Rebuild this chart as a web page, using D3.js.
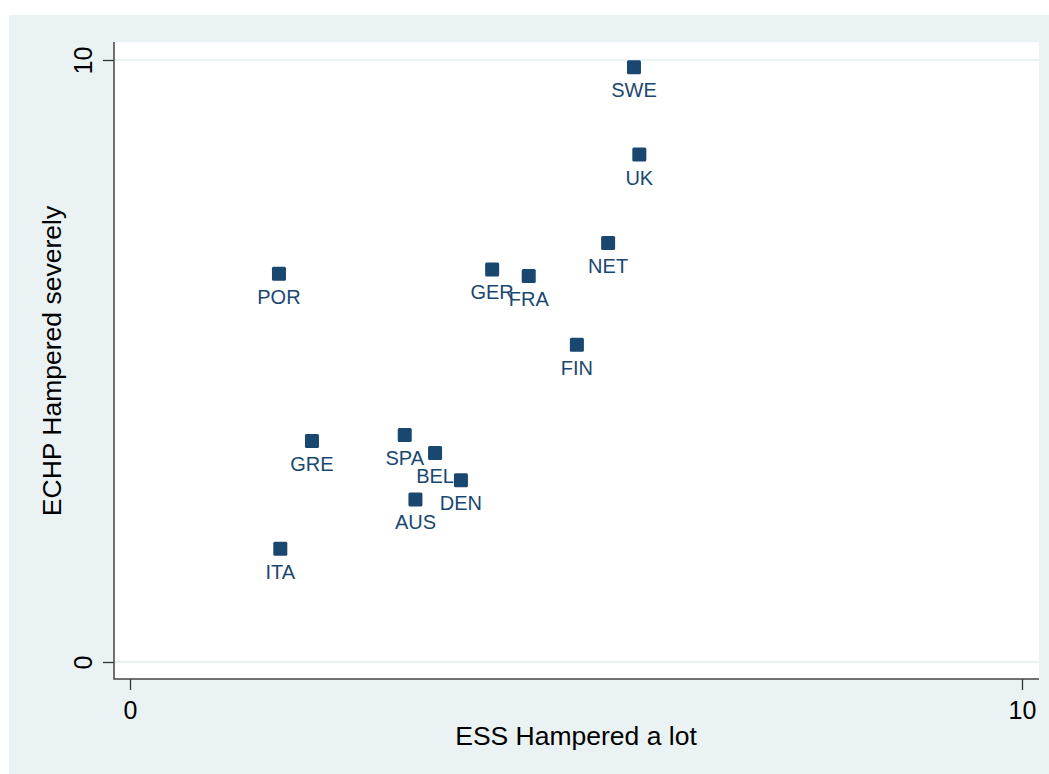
<!DOCTYPE html>
<html>
<head>
<meta charset="utf-8">
<script src="https://cdn.jsdelivr.net/npm/d3@7"></script>
<style>
  body { margin: 0; background: #fff; }
  svg { display: block; font-family: Arial, "Liberation Sans", sans-serif; }
</style>
</head>
<body>
<div class="chart"></div>
<script>
// country codes and values
const countries = ["SWE", "UK", "NET", "GER", "FRA", "POR", "FIN", "GRE", "SPA", "BEL", "DEN", "AUS", "ITA"];
const essLot = [5.65, 5.71, 5.36, 4.06, 4.47, 1.67, 5.01, 2.04, 3.08, 3.42, 3.71, 3.20, 1.685];
const echpSevere = [9.88, 8.43, 6.96, 6.52, 6.41, 6.45, 5.27, 3.67, 3.77, 3.47, 3.02, 2.70, 1.88];
const xTicks = [0, 10];
const yTicks = [0, 10];

const width = 1049, height = 774;
const navy = "#1a476f";
const bg = "#eaf2f3";

const svg = d3.select(".chart").append("svg")
    .attr("width", width)
    .attr("height", height);

// outer graph region
svg.append("rect")
    .attr("x", 9).attr("y", 15)
    .attr("width", width - 9).attr("height", height - 15)
    .attr("fill", bg);

// plot region
const plot = { left: 114, top: 42, right: 1039, bottom: 679 };
svg.append("rect")
    .attr("x", plot.left).attr("y", plot.top)
    .attr("width", plot.right - plot.left).attr("height", plot.bottom - plot.top)
    .attr("fill", "#fff");

const x = d3.scaleLinear().domain([0, 10]).range([130, 1022]);
const y = d3.scaleLinear().domain([0, 10]).range([662, 60]);

// gridlines
svg.selectAll("line.grid")
    .data(yTicks)
    .enter().append("line")
    .attr("class", "grid")
    .attr("x1", plot.left).attr("x2", plot.right)
    .attr("y1", d => y(d)).attr("y2", d => y(d))
    .attr("stroke", bg)
    .attr("stroke-width", 2);

// y axis
const yAxis = svg.append("g")
    .attr("transform", `translate(${plot.left},0)`)
    .call(d3.axisLeft(y).tickValues(yTicks).tickSize(11).tickPadding(10).tickFormat(d3.format("d")));
yAxis.select(".domain").remove();
yAxis.selectAll(".tick line").attr("stroke", "#333").attr("stroke-width", 1.3);
yAxis.selectAll(".tick text")
    .attr("x", 0).attr("dy", 0)
    .attr("transform", "translate(-22,0) rotate(-90)")
    .attr("text-anchor", "middle")
    .style("font-size", "25px")
    .attr("fill", "#000");

// x axis
const xAxis = svg.append("g")
    .attr("transform", `translate(0,${plot.bottom})`)
    .call(d3.axisBottom(x).tickValues(xTicks).tickSize(11).tickPadding(10).tickFormat(d3.format("d")));
xAxis.select(".domain").remove();
xAxis.selectAll(".tick line").attr("stroke", "#333").attr("stroke-width", 1.3);
xAxis.selectAll(".tick text")
    .attr("dy", 0).attr("y", 40)
    .style("font-size", "25px")
    .attr("fill", "#000");

// axis lines
svg.append("path")
    .attr("d", `M${plot.left},${plot.top} L${plot.left},${plot.bottom} L${plot.right},${plot.bottom}`)
    .attr("fill", "none")
    .attr("stroke", "#444")
    .attr("stroke-width", 1.5);

// axis titles
svg.append("text")
    .attr("x", 576).attr("y", 745)
    .attr("text-anchor", "middle")
    .style("font-size", "26.5px")
    .text("ESS Hampered a lot");

svg.append("text")
    .attr("transform", "translate(61,361) rotate(-90)")
    .attr("text-anchor", "middle")
    .style("font-size", "26.5px")
    .text("ECHP Hampered severely");

// markers and labels
const pts = countries.map((c, i) => ({ name: c, x: essLot[i], y: echpSevere[i] }));

svg.selectAll("rect.pt")
    .data(pts)
    .enter().append("rect")
    .attr("class", "pt")
    .attr("x", d => x(d.x) - 7)
    .attr("y", d => y(d.y) - 7)
    .attr("width", 14).attr("height", 14)
    .attr("rx", 1.5)
    .attr("fill", navy);

svg.selectAll("text.lab")
    .data(pts)
    .enter().append("text")
    .attr("class", "lab")
    .attr("x", d => x(d.x))
    .attr("y", d => y(d.y) + 30)
    .attr("text-anchor", "middle")
    .style("font-size", "20px")
    .attr("fill", navy)
    .text(d => d.name);
</script>
</body>
</html>
